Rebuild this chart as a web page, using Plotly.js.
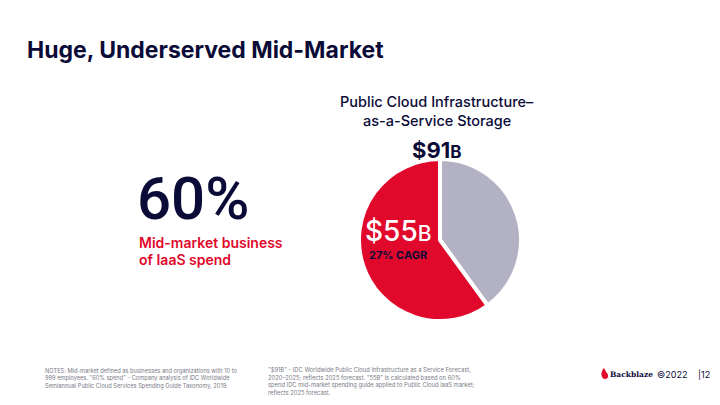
<!DOCTYPE html>
<html>
<head>
<meta charset="utf-8">
<script src="https://cdn.plot.ly/plotly-3.0.1.min.js"></script>
<style>html,body{margin:0;padding:0;background:#fff;}#chart{width:720px;height:405px;}</style>
</head>
<body>
<div id="chart"></div>
<script>
// Data
const segments = ["Other", "Mid-market"];
const shares = [40, 60];
const segmentColors = ["#b3b2c4", "#e0082b"];
const totalLabel = "$91";
const midLabel = "$55";
const cagrLabel = "27% CAGR";
const headline = "60%";

const NAVY = "#0b0b38";
const RED = "#e0082b";
const FONT = "Inter, 'DejaVu Sans', sans-serif";
const W = 720, H = 405;
const px = x => x / W;
const py = y => 1 - y / H;

const cx = 440, cy = 240, r = 81;

const data = [{
  type: "pie",
  labels: segments,
  values: shares,
  sort: false,
  direction: "clockwise",
  rotation: 0,
  marker: {colors: segmentColors, line: {color: "#ffffff", width: 4}},
  textinfo: "none",
  hoverinfo: "label+percent",
  showlegend: false,
  domain: {x: [px(cx - r), px(cx + r)], y: [py(cy + r), py(cy - r)]}
}];

const ann = (x, y, text, size, color, opts) => Object.assign({
  xref: "paper", yref: "paper", x: px(x), y: py(y), text: text,
  showarrow: false, xanchor: "center", yanchor: "middle", borderpad: 0,
  font: {family: FONT, size: size, color: color}
}, opts || {});

const foot = "#7a7a86";
const annotations = [
  ann(26, 50, "Huge, Underserved Mid-Market", 23, NAVY, {xanchor: "left", font: {family: FONT, size: 23, color: NAVY, weight: 700}}),
  ann(437, 102, "Public Cloud Infrastructure–", 14.5, NAVY, {font: {family: FONT, size: 14.5, color: NAVY, weight: 500}}),
  ann(437, 121, "as-a-Service Storage", 14.5, NAVY, {font: {family: FONT, size: 14.5, color: NAVY, weight: 500}}),
  ann(437, 150, totalLabel + "<span style='font-size:17px'>B</span>", 22, NAVY, {font: {family: FONT, size: 22, color: NAVY, weight: 700}}),
  ann(398, 231, midLabel + "<span style='font-size:21px'>B</span>", 28, "#ffffff", {font: {family: FONT, size: 28, color: "#ffffff", weight: 500}}),
  ann(398, 255, cagrLabel, 11, NAVY, {font: {family: FONT, size: 11, color: NAVY, weight: 700}}),
  ann(136, 198, headline, 60, NAVY, {xanchor: "left", font: {family: "Roboto, " + FONT, size: 60, color: NAVY, weight: 500}}),
  ann(138, 242, "Mid-market business", 14, RED, {xanchor: "left", font: {family: FONT, size: 14, color: RED, weight: 600}}),
  ann(138, 259, "of IaaS spend", 14, RED, {xanchor: "left", font: {family: FONT, size: 14, color: RED, weight: 600}}),
  ann(44, 378, "NOTES: Mid-market defined as businesses and organizations with 10 to<br>999 employees. \"60% spend\" - Company analysis of IDC Worldwide<br>Semiannual Public Cloud Services Spending Guide Taxonomy, 2019.", 5.7, foot, {xanchor: "left", align: "left"}),
  ann(267, 381, "\"$91B\" - IDC Worldwide Public Cloud Infrastructure as a Service Forecast,<br>2020–2025; reflects 2025 forecast. \"55B\" is calculated based on 60%<br>spend IDC mid-market spending guide applied to Public Cloud IaaS market;<br>reflects 2025 forecast.", 5.8, foot, {xanchor: "left", align: "left"}),
  ann(609, 374, "Backblaze", 7.5, NAVY, {xanchor: "left", font: {family: "'DejaVu Serif', serif", size: 7.5, color: NAVY, weight: 700}}),
  ann(656, 374, "©2022", 9, NAVY, {xanchor: "left", font: {family: FONT, size: 9, color: NAVY}}),
  ann(697, 374, "|12", 9, NAVY, {xanchor: "left", font: {family: FONT, size: 9, color: NAVY}})
];

const shapes = [{
  type: "path", xref: "paper", yref: "paper",
  path: `M ${px(604)} ${py(368)} C ${px(600)} ${py(372)}, ${px(601)} ${py(379)}, ${px(605)} ${py(379)} C ${px(609)} ${py(379)}, ${px(609)} ${py(374)}, ${px(606)} ${py(372)} C ${px(606)} ${py(371)}, ${px(605)} ${py(370)}, ${px(604)} ${py(368)} Z`,
  fillcolor: RED, line: {width: 0}
}];

const layout = {
  width: W, height: H,
  margin: {l: 0, r: 0, t: 0, b: 0},
  paper_bgcolor: "#ffffff",
  plot_bgcolor: "#ffffff",
  annotations: annotations,
  shapes: shapes,
  showlegend: false
};

Plotly.newPlot("chart", data, layout, {staticPlot: true});
</script>
</body>
</html>
